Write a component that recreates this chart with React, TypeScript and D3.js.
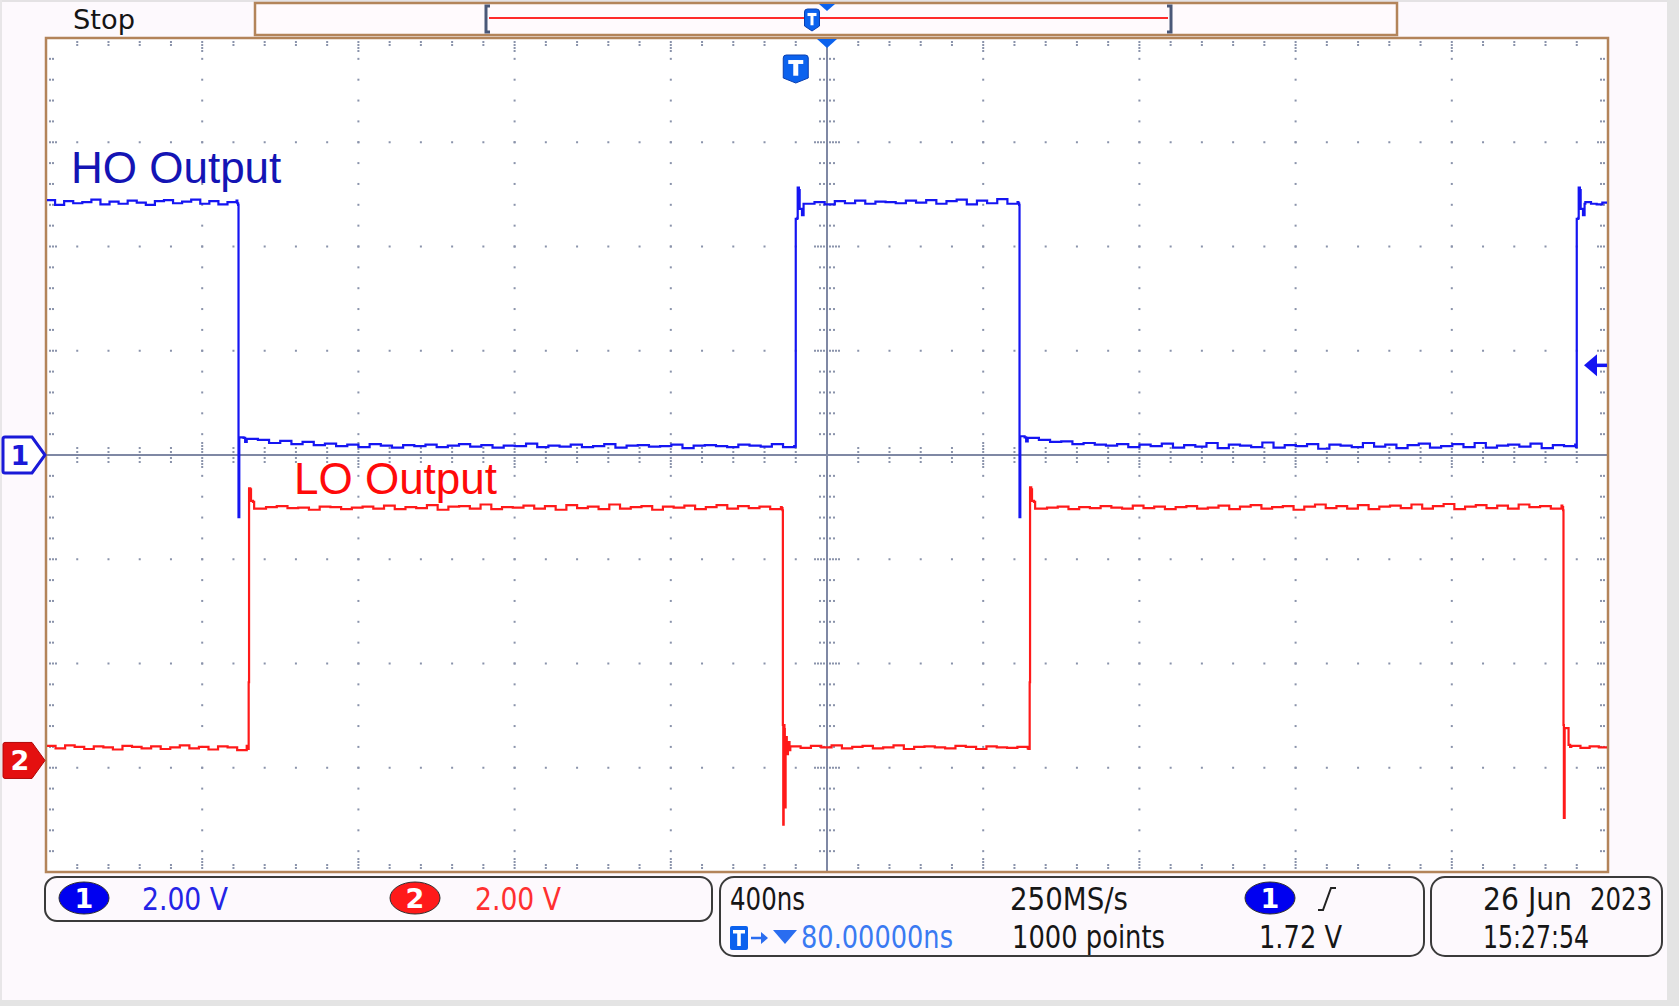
import React from "react";
import * as d3 from "d3";

// screen size
const W = 1679;
const H = 1006;

// scope settings
const timePerDiv = 400; // ns
const triggerDelay = 80; // ns
const voltsPerDiv = 2;
const ch2Position = -2.93; // divisions
const triggerLevel = 1.72; // V

// HO output (channel 1): flat parts with ripple (1/100 V) and edge transients [ns, V]
const hoFlats = [
  { from: -1920, to: -1432, level: 4.85, ripple: [4, -5, 2, -2, 0, 5, -4, 1, -3, 3, -1, -5, 2, 4, -2, 1, 5, -3, 2, -4, 0, 3] },
  { from: -1406, to: -4, level: 0.17, ripple: [14, 12, 6, 10, 4, 8, 2, 5, 0, 3, -2, 4, 1, -3, 2, 0, 3, -2, 1, 4, -1, 2, -3, 1, 0, 5, -2, 1, -1, 3, -2, 0, 4, -3, 1, 2, -1, 0, 3, -4, 1, 2, 0, -2, 3, 1, -1, 4, -2, 0] },
  { from: 22, to: 568, level: 4.85, ripple: [-3, 0, -4, 2, -2, 3, -3, 1, 0, -2, 3, -1, 4, -3, 2, 5, -4, 3, -2, 6, -3, 0] },
  { from: 594, to: 1996, level: 0.17, ripple: [16, 12, 8, 9, 4, 6, 3, 1, 4, -2, 3, 0, 5, -3, 2, -1, 6, -4, 3, 1, -2, 7, -3, 2, 0, 4, -5, 3, 1, -2, 6, -1, 3, -4, 2, 5, -3, 0, 4, -2, 6, -3, 1, 3, -1, 5, -4, 2, 0, 3] },
  { from: 2022, to: 2080, level: 4.85, ripple: [0, -3, -4, -1, 0] },
];
const hoEdges = [
  [[-1430, 4.83], [-1428, 4.8], [-1427, -1.19], [-1425, 0.34], [-1414, 0.33], [-1410, 0.25]],
  [[-2, 0.16], [0, 4.53], [4, 4.55], [5, 5.13], [8, 5.08], [10, 4.72], [13, 4.72], [16, 4.6], [20, 4.82]],
  [[570, 4.83], [572, 4.8], [573, -1.19], [575, 0.36], [586, 0.34], [590, 0.26]],
  [[1998, 0.15], [2000, 4.53], [2004, 4.55], [2005, 5.13], [2008, 5.08], [2010, 4.72], [2013, 4.72], [2016, 4.6], [2020, 4.82]],
];

// LO output (channel 2)
const loFlats = [
  { from: -1920, to: -1406, level: 0.25, ripple: [3, -2, 4, 1, -3, 2, 0, -4, 3, 1, -2, 2, -3, 0, 4, -2, 1, -4, 2, 0, -5, 3] },
  { from: -1384, to: -38, level: 4.85, ripple: [-2, 1, 3, -1, 0, -4, 2, 1, -3, 0, 2, -2, 4, -3, 1, -1, 5, -4, 2, 3, -2, 6, -3, 1, 0, 4, -2, 3, -4, 5, -1, 2, -3, 6, -2, 1, 3, -4, 2, 0, 4, -3, 1, 5, -2, 3, -1, 2, -3, 1] },
  { from: -14, to: 594, level: 0.25, ripple: [2, -1, 3, 0, 4, -2, 1, 3, -2, 0, 4, -3, 1, 2, 0, -2, 3, 1, -3, 2, 0, -1, 1, -2] },
  { from: 616, to: 1961, level: 4.85, ripple: [-2, 0, 2, -3, 1, -1, 3, 0, -2, 4, -1, 2, -3, 1, 3, -2, 0, 4, -3, 2, 5, -2, 1, 3, -4, 2, 6, -1, 3, -2, 5, -3, 2, 4, -1, 6, -2, 3, 7, -3, 2, 5, -1, 4, -2, 6, 1, 3, -2, 4] },
  { from: 1986, to: 2080, level: 0.25, ripple: [3, -1, 2, 0, 1] },
];
const loEdges = [
  [[-1404, 0.22], [-1401, 1.5], [-1400, 5.22], [-1397, 5.2], [-1395, 4.98], [-1390, 4.96], [-1387, 4.83]],
  [[-36, 4.84], [-34, 4.8], [-33, 0.68], [-32, -1.23], [-31, 0.68], [-29, 0.6], [-28, -0.9], [-26, 0.45], [-23, 0.12], [-20, 0.35], [-16, 0.2]],
  [[596, 0.22], [599, 1.5], [600, 5.24], [603, 5.2], [605, 4.98], [610, 4.96], [613, 4.83]],
  [[1963, 4.86], [1965, 4.8], [1966, 0.68], [1967, -1.1], [1969, 0.62], [1976, 0.62], [1979, 0.3], [1983, 0.26]],
];

// readouts
const channelScales = ["2.00 V", "2.00 V"];
const timebaseText = "400ns";
const sampleRateText = "250MS/s";
const recordText = "1000 points";
const delayText = "80.00000ns";
const trigLevelText = "1.72 V";
const dateParts = ["26 Jun", "2023"];
const clockText = "15:27:54";

// layout
const X0 = 46, X1 = 1608, Y0 = 38, Y1 = 872;
const BROWN = "#b3845a";
const DOT = "#8a93ab";
const uiFont = "'Liberation Sans Narrow', 'DejaVu Sans Condensed', 'Arial Narrow', sans-serif";

function tracePoints(flats, edges) {
  const pts = [];
  flats.forEach((f) => {
    const n = f.ripple.length;
    f.ripple.forEach((r, i) => pts.push([f.from + ((f.to - f.from) * i) / (n - 1), f.level + r / 100]));
  });
  edges.forEach((e) => e.forEach((p) => pts.push(p)));
  return pts.sort((a, b) => a[0] - b[0]);
}

function Badge({ cx, cy, fill, label }) {
  return (
    <g>
      <ellipse cx={cx} cy={cy} rx={25} ry={16} fill={fill} stroke="#303030" strokeWidth={1} />
      <text x={cx} y={cy + 10} textAnchor="middle" fill="#fff" fontFamily="DejaVu Sans" fontWeight="bold" fontSize={27}>{label}</text>
    </g>
  );
}

function TGlyph({ cx, top, w, h }) {
  // white T on a blue shield
  return (
    <g>
      <path
        d={`M${cx - w / 2},${top + 3} Q${cx - w / 2},${top} ${cx - w / 2 + 3},${top} L${cx + w / 2 - 3},${top} Q${cx + w / 2},${top} ${cx + w / 2},${top + 3} L${cx + w / 2},${top + h - 5} L${cx},${top + h} L${cx - w / 2},${top + h - 5} Z`}
        fill="#0b62ee" stroke="#0a3fb0" strokeWidth={1}
      />
      <rect x={cx - w * 0.3} y={top + h * 0.18} width={w * 0.6} height={h * 0.14} fill="#fff" />
      <rect x={cx - w * 0.1} y={top + h * 0.18} width={w * 0.2} height={h * 0.56} fill="#fff" />
    </g>
  );
}

export default function App() {
  const x = d3.scaleLinear().domain([triggerDelay - 5 * timePerDiv, triggerDelay + 5 * timePerDiv]).range([X0, X1]);
  const yDiv = d3.scaleLinear().domain([-4, 4]).range([Y1, Y0]);
  const y1 = (v) => yDiv(v / voltsPerDiv);
  const y2 = (v) => yDiv(v / voltsPerDiv + ch2Position);
  const cx = x(triggerDelay);
  const cy = yDiv(0);
  const tMin = x.domain()[0];

  const dots = [];
  const minorT = d3.range(1, 50).map((k) => tMin + (k * timePerDiv) / 5);
  const minorD = d3.range(1, 40).map((k) => -4 + k / 5);
  for (let i = 1; i < 10; i++) {
    if (i === 5) continue;
    const px = x(tMin + i * timePerDiv);
    minorD.forEach((d) => dots.push([px, yDiv(d)]));
  }
  for (let j = 1; j < 8; j++) {
    if (j === 4) continue;
    const py = yDiv(-4 + j);
    minorT.forEach((t) => dots.push([x(t), py]));
  }
  minorT.forEach((t, k) => {
    const n = (k + 1) % 5 === 0 ? 4 : 2;
    for (let m = 1; m <= n; m++) {
      dots.push([x(t), Y0 + 1 + m * 3]);
      dots.push([x(t), Y1 - 1 - m * 3]);
    }
    const offs = (k + 1) % 5 === 0 ? [-12, -9, -6, -3, 3, 6, 9, 12] : [-7, -3, 3, 7];
    offs.forEach((o) => dots.push([x(t), cy + o]));
  });
  minorD.forEach((d, k) => {
    const n = (k + 1) % 5 === 0 ? 3 : 2;
    for (let m = 1; m <= n; m++) {
      dots.push([X0 + 1 + m * 3, yDiv(d)]);
      dots.push([X1 - 1 - m * 3, yDiv(d)]);
    }
    const offs = (k + 1) % 5 === 0 ? [-12, -9, -6, -3, 3, 6, 9, 12] : [-7, -3, 3, 7];
    offs.forEach((o) => dots.push([cx + o, yDiv(d)]));
  });

  const ho = tracePoints(hoFlats, hoEdges);
  const lo = tracePoints(loFlats, loEdges);
  // scope draws sample-and-hold style, so steps
  const line1 = d3.line().curve(d3.curveStepAfter).x((d) => x(d[0])).y((d) => y1(d[1]));
  const line2 = d3.line().curve(d3.curveStepAfter).x((d) => x(d[0])).y((d) => y2(d[1]));

  const xTrig = x(0);
  const yTrig = y1(triggerLevel);
  const markerPath = (mid) =>
    `M5,${mid - 18} L32,${mid - 18} L45,${mid} L32,${mid + 18} L5,${mid + 18} Q3,${mid + 18} 3,${mid + 16} L3,${mid - 16} Q3,${mid - 18} 5,${mid - 18} Z`;
  const m2 = y2(0);

  return (
    <svg width={W} height={H} style={{ position: "absolute", left: 0, top: 0 }}>
      <rect x={0} y={0} width={W} height={H} fill="#fdf9fd" />
      <rect x={0} y={0} width={W} height={2} fill="#e4e2e4" />
      <rect x={0} y={0} width={2} height={H} fill="#e8e6e8" />
      <rect x={1667} y={0} width={12} height={H} fill="#e4e4e4" />
      <rect x={0} y={1000} width={W} height={6} fill="#e4e4e4" />

      {/* record bar */}
      <rect x={255} y={3} width={1142} height={32} fill="#fffafd" stroke={BROWN} strokeWidth={2.5} />
      <line x1={489} x2={1168} y1={18} y2={18} stroke="#ff2a2a" strokeWidth={2} />
      <path d="M490,6 L486,6 L486,32 L490,32" fill="none" stroke="#4a5878" strokeWidth={3} />
      <path d="M1167,6 L1171,6 L1171,32 L1167,32" fill="none" stroke="#4a5878" strokeWidth={3} />
      <TGlyph cx={812} top={9} w={15} h={22} />
      <path d={`M${cx - 8},4 L${cx + 8},4 L${cx},11 Z`} fill="#0b62ee" />
      <text x={73} y={29} fontFamily="DejaVu Sans" fontSize={26} fill="#151515" textLength={62} lengthAdjust="spacingAndGlyphs">Stop</text>

      {/* graticule */}
      <rect x={X0} y={Y0} width={X1 - X0} height={Y1 - Y0} fill="#ffffff" />
      <g fill={DOT}>
        {dots.map((d, i) => (
          <rect key={i} x={d[0] - 1} y={d[1] - 1} width={2} height={2} />
        ))}
      </g>
      <line x1={cx} x2={cx} y1={Y0} y2={Y1} stroke="#7f88a4" strokeWidth={2} />
      <line x1={X0} x2={X1} y1={cy} y2={cy} stroke="#7f88a4" strokeWidth={2} />
      <rect x={X0} y={Y0} width={X1 - X0} height={Y1 - Y0} fill="none" stroke={BROWN} strokeWidth={2.5} />

      {/* traces */}
      <defs>
        <clipPath id="plot">
          <rect x={X0 + 1} y={Y0 + 1} width={X1 - X0 - 2} height={Y1 - Y0 - 2} />
        </clipPath>
      </defs>
      <g clipPath="url(#plot)" fill="none" strokeWidth={2.2} strokeLinejoin="miter">
        <path d={line2(lo)} stroke="#ff1a1a" />
        <path d={line1(ho)} stroke="#1515f2" />
      </g>

      {/* trigger markers */}
      <path d={`M${cx - 10},${Y0 + 1} L${cx + 10},${Y0 + 1} L${cx},${Y0 + 10} Z`} fill="#0b62ee" />
      <TGlyph cx={xTrig} top={55} w={25} h={28} />
      <path d={`M${X1 - 24},${yTrig} L${X1 - 11},${yTrig - 11} L${X1 - 11},${yTrig + 11} Z`} fill="#1515f2" />
      <line x1={X1 - 12} x2={X1 - 1} y1={yTrig} y2={yTrig} stroke="#1515f2" strokeWidth={3.5} />

      {/* channel markers */}
      <path d={markerPath(cy)} fill="#ffffff" stroke="#1a1ad8" strokeWidth={3} />
      <text x={20} y={cy + 10} textAnchor="middle" fill="#1a1ad8" fontFamily="DejaVu Sans" fontWeight="bold" fontSize={27}>1</text>
      <path d={markerPath(m2)} fill="#e41010" stroke="#b00808" strokeWidth={1} />
      <text x={20} y={m2 + 10} textAnchor="middle" fill="#ffffff" fontFamily="DejaVu Sans" fontWeight="bold" fontSize={27}>2</text>

      {/* labels */}
      <text x={71} y={183} fontFamily="'Liberation Sans', Arial, sans-serif" fontSize={44} fill="#1414b4">HO Output</text>
      <text x={294} y={494} fontFamily="'Liberation Sans', Arial, sans-serif" fontSize={44} fill="#ff0a0a">LO Output</text>

      {/* readout panels */}
      <g fill="none" stroke="#3a3a3a" strokeWidth={2}>
        <rect x={45} y={877} width={667} height={44} rx={12} />
        <rect x={720} y={877} width={704} height={79} rx={14} />
        <rect x={1431} y={877} width={231} height={79} rx={14} />
      </g>
      <Badge cx={84} cy={898} fill="#0000f0" label="1" />
      <text x={142} y={910} fontFamily={uiFont} fontSize={32} fill="#2424e6" textLength={86} lengthAdjust="spacingAndGlyphs">{channelScales[0]}</text>
      <Badge cx={415} cy={898} fill="#ff1a1a" label="2" />
      <text x={475} y={910} fontFamily={uiFont} fontSize={32} fill="#ff3030" textLength={86} lengthAdjust="spacingAndGlyphs">{channelScales[1]}</text>

      <g fontFamily={uiFont} fontSize={32} fill="#161616">
        <text x={730} y={910} textLength={75} lengthAdjust="spacingAndGlyphs">{timebaseText}</text>
        <text x={1010} y={910} textLength={118} lengthAdjust="spacingAndGlyphs">{sampleRateText}</text>
        <text x={1012} y={948} textLength={153} lengthAdjust="spacingAndGlyphs">{recordText}</text>
        <text x={1259} y={948} textLength={83} lengthAdjust="spacingAndGlyphs">{trigLevelText}</text>
        <text x={1483} y={910} textLength={89} lengthAdjust="spacingAndGlyphs">{dateParts[0]}</text>
        <text x={1590} y={910} textLength={62} lengthAdjust="spacingAndGlyphs">{dateParts[1]}</text>
        <text x={1483} y={948} textLength={106} lengthAdjust="spacingAndGlyphs">{clockText}</text>
      </g>
      <Badge cx={1270} cy={898} fill="#0000f0" label="1" />
      <path d="M1318,910 L1323,910 L1331,888 L1336,888" fill="none" stroke="#222" strokeWidth={2} />

      <rect x={730} y={926} width={18} height={24} rx={2} fill="#0b62ee" />
      <rect x={733} y={930} width={12} height={3.5} fill="#fff" />
      <rect x={737.2} y={930} width={3.6} height={16} fill="#fff" />
      <line x1={751} x2={764} y1={938} y2={938} stroke="#2a6df0" strokeWidth={2.5} />
      <path d="M768,938 L761,932 L761,944 Z" fill="#2a6df0" />
      <path d="M773,930 L797,930 L785,944 Z" fill="#2a6df0" />
      <text x={801} y={948} fontFamily={uiFont} fontSize={32} fill="#3a7af2" textLength={152} lengthAdjust="spacingAndGlyphs">{delayText}</text>
    </svg>
  );
}
